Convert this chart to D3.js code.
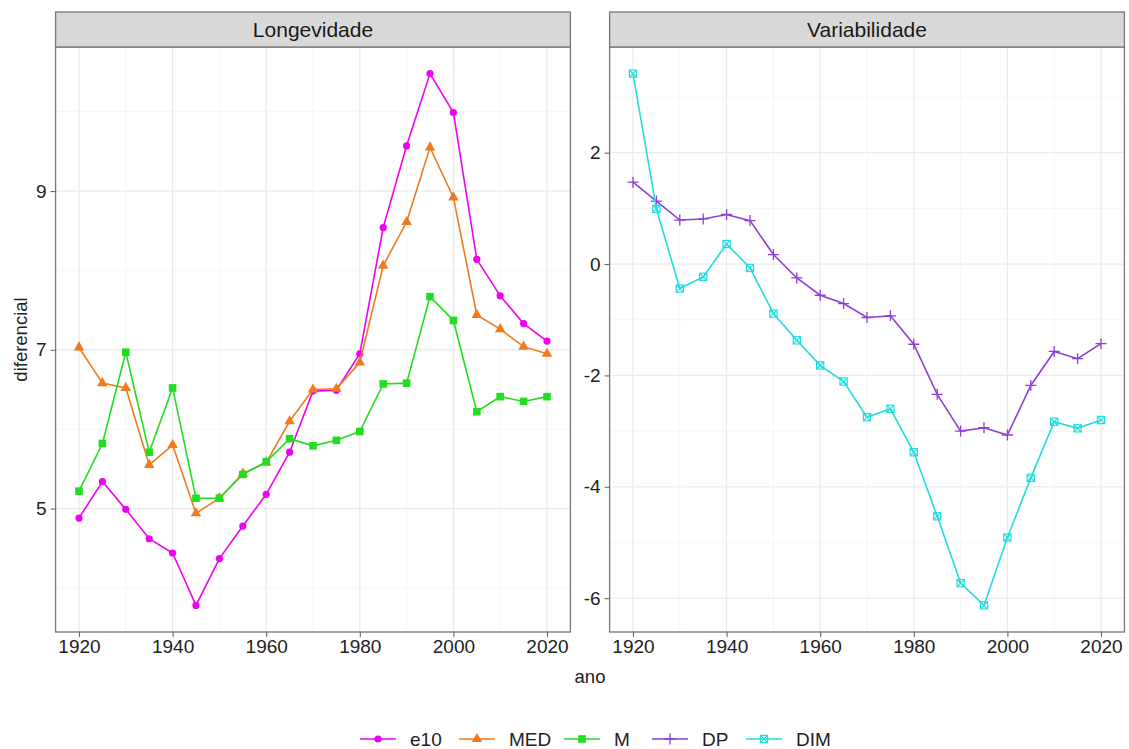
<!DOCTYPE html>
<html>
<head>
<meta charset="utf-8">
<script src="https://cdn.jsdelivr.net/npm/d3@7"></script>
<style>
  body { margin: 0; background: #fff; }
  text { font-family: "Liberation Sans", Arial, sans-serif; }
</style>
</head>
<body>
<svg id="chart" width="1129" height="749"></svg>
<script>
// data
let years = [1920,1925,1930,1935,1940,1945,1950,1955,1960,1965,1970,1975,1980,1985,1990,1995,2000,2005,2010,2015,2020];
let e10 = [4.88,5.34,4.99,4.62,4.44,3.78,4.37,4.78,5.18,5.71,6.48,6.49,6.95,8.54,9.57,10.48,9.99,8.14,7.68,7.33,7.11];
let med = [7.03,6.58,6.52,5.55,5.80,4.94,5.13,5.44,5.58,6.10,6.50,6.51,6.84,8.06,8.61,9.55,8.92,7.44,7.26,7.04,6.95];
let m   = [5.22,5.82,6.97,5.71,6.52,5.13,5.13,5.43,5.59,5.88,5.79,5.86,5.97,6.57,6.58,7.67,7.37,6.22,6.41,6.35,6.41];
let dp  = [1.47,1.13,0.79,0.81,0.89,0.78,0.17,-0.25,-0.56,-0.71,-0.96,-0.93,-1.44,-2.34,-3.00,-2.94,-3.07,-2.18,-1.57,-1.70,-1.43];
let dim = [3.42,0.99,-0.44,-0.23,0.36,-0.07,-0.89,-1.37,-1.82,-2.11,-2.75,-2.60,-3.38,-4.53,-5.73,-6.13,-4.91,-3.84,-2.83,-2.95,-2.80];

let xTicks = [1920,1940,1960,1980,2000,2020];
let leftTicks = [5,7,9];
let rightTicks = [-6,-4,-2,0,2];

let series = [
  {key:"e10", values:e10, color:"#F000F0", shape:"circle", panel:0},
  {key:"MED", values:med, color:"#F07A1E", shape:"triangle", panel:0},
  {key:"M",   values:m,   color:"#22DD22", shape:"square", panel:0},
  {key:"DP",  values:dp,  color:"#8E3ED8", shape:"plus", panel:1},
  {key:"DIM", values:dim, color:"#22DDDD", shape:"squarecross", panel:1}
];

let svg = d3.select("#chart");
let panelTop = 47, panelBottom = 632;
let panels = [
  {title:"Longevidade", x0:55.6, x1:570.4, ticks:leftTicks},
  {title:"Variabilidade", x0:609.6, x1:1124.4, ticks:rightTicks}
];

function expand(ext){
  let pad = (ext[1]-ext[0])*0.05;
  return [ext[0]-pad, ext[1]+pad];
}

function drawShape(g, shape, x, y, color){
  if(shape == "circle"){
    g.append("circle").attr("cx",x).attr("cy",y).attr("r",3.6).attr("fill",color);
  } else if(shape == "triangle"){
    g.append("path").attr("transform","translate("+x+","+y+")")
      .attr("d", d3.symbol().type(d3.symbolTriangle).size(48)).attr("fill",color);
  } else if(shape == "square"){
    g.append("rect").attr("x",x-3.8).attr("y",y-3.8).attr("width",7.6).attr("height",7.6).attr("fill",color);
  } else if(shape == "plus"){
    g.append("path").attr("d","M"+(x-5.5)+","+y+"H"+(x+5.5)+"M"+x+","+(y-5.5)+"V"+(y+5.5))
      .attr("stroke",color).attr("stroke-width",1.3).attr("fill","none");
  } else {
    let s = 3.6;
    g.append("rect").attr("x",x-s).attr("y",y-s).attr("width",2*s).attr("height",2*s)
      .attr("fill","none").attr("stroke",color).attr("stroke-width",1.2);
    g.append("path").attr("d","M"+(x-s)+","+(y-s)+"L"+(x+s)+","+(y+s)+"M"+(x+s)+","+(y-s)+"L"+(x-s)+","+(y+s))
      .attr("stroke",color).attr("stroke-width",1.1).attr("fill","none");
  }
}

panels.forEach(function(p, pi){
  let ps = series.filter(s => s.panel == pi);
  let allVals = [].concat(...ps.map(s => s.values));
  let x = d3.scaleLinear().domain(expand(d3.extent(years))).range([p.x0, p.x1]);
  let y = d3.scaleLinear().domain(expand(d3.extent(allVals))).range([panelBottom, panelTop]);
  let g = svg.append("g");

  // grid
  let yMinor = p.ticks.slice(0,-1).map((t,i) => (t + p.ticks[i+1])/2);
  yMinor.unshift(p.ticks[0] - (p.ticks[1]-p.ticks[0])/2);
  yMinor.push(p.ticks[p.ticks.length-1] + (p.ticks[1]-p.ticks[0])/2);
  yMinor = yMinor.filter(v => v > y.domain()[0] && v < y.domain()[1]);
  let xMinor = [1930,1950,1970,1990,2010];
  g.selectAll(".ymin").data(yMinor).enter().append("line")
    .attr("x1",p.x0).attr("x2",p.x1).attr("y1",d=>y(d)).attr("y2",d=>y(d))
    .attr("stroke","#F4F4F4").attr("stroke-width",0.8);
  g.selectAll(".xmin").data(xMinor).enter().append("line")
    .attr("x1",d=>x(d)).attr("x2",d=>x(d)).attr("y1",panelTop).attr("y2",panelBottom)
    .attr("stroke","#F4F4F4").attr("stroke-width",0.8);
  g.selectAll(".ymaj").data(p.ticks).enter().append("line")
    .attr("x1",p.x0).attr("x2",p.x1).attr("y1",d=>y(d)).attr("y2",d=>y(d))
    .attr("stroke","#EBEBEB").attr("stroke-width",1.3);
  g.selectAll(".xmaj").data(xTicks).enter().append("line")
    .attr("x1",d=>x(d)).attr("x2",d=>x(d)).attr("y1",panelTop).attr("y2",panelBottom)
    .attr("stroke","#EBEBEB").attr("stroke-width",1.3);

  // series
  let line = d3.line().x((d,i) => x(years[i])).y(d => y(d));
  ps.forEach(function(s){
    g.append("path").datum(s.values).attr("d",line)
      .attr("fill","none").attr("stroke",s.color).attr("stroke-width",1.6);
    s.values.forEach(function(v,i){ drawShape(g, s.shape, x(years[i]), y(v), s.color); });
  });

  // border + strip
  g.append("rect").attr("x",p.x0).attr("y",panelTop).attr("width",p.x1-p.x0).attr("height",panelBottom-panelTop)
    .attr("fill","none").attr("stroke","#777").attr("stroke-width",1.3);
  g.append("rect").attr("x",p.x0).attr("y",12).attr("width",p.x1-p.x0).attr("height",panelTop-12)
    .attr("fill","#D9D9D9").attr("stroke","#777").attr("stroke-width",1.3);
  g.append("text").attr("x",(p.x0+p.x1)/2).attr("y",37).attr("text-anchor","middle")
    .style("font-size","21px").attr("fill","#1a1a1a").text(p.title);

  // axes
  let xAxis = d3.axisBottom(x).tickValues(xTicks).tickFormat(d3.format("d")).tickSize(5).tickPadding(3);
  let ax = svg.append("g").attr("transform","translate(0,"+panelBottom+")").call(xAxis);
  let yAxis = d3.axisLeft(y).tickValues(p.ticks).tickFormat(d => String(d)).tickSize(5).tickPadding(4);
  let ay = svg.append("g").attr("transform","translate("+p.x0+",0)").call(yAxis);
  [ax, ay].forEach(function(a){
    a.select(".domain").remove();
    a.selectAll(".tick line").attr("stroke","#666").attr("stroke-width",1.1);
    a.selectAll(".tick text").style("font-size","19px").attr("fill","#222")
      .style("font-family","'Liberation Sans', Arial, sans-serif");
  });
});

// axis titles
svg.append("text").attr("x",590).attr("y",683).attr("text-anchor","middle")
  .style("font-size","18.5px").attr("fill","#222").text("ano");
svg.append("text").attr("transform","translate(27,339.5) rotate(-90)").attr("text-anchor","middle")
  .style("font-size","18.5px").attr("fill","#222").text("diferencial");

// legend
let legendX = [360, 459, 564, 652, 746];
let legend = svg.append("g");
series.forEach(function(s, i){
  let lx = legendX[i], ly = 739;
  legend.append("line").attr("x1",lx).attr("x2",lx+36).attr("y1",ly).attr("y2",ly)
    .attr("stroke",s.color).attr("stroke-width",1.6);
  drawShape(legend, s.shape, lx+18, ly, s.color);
  legend.append("text").attr("x",lx+50).attr("y",ly+7)
    .style("font-size","19px").attr("fill","#222").text(s.key);
});
</script>
</body>
</html>
